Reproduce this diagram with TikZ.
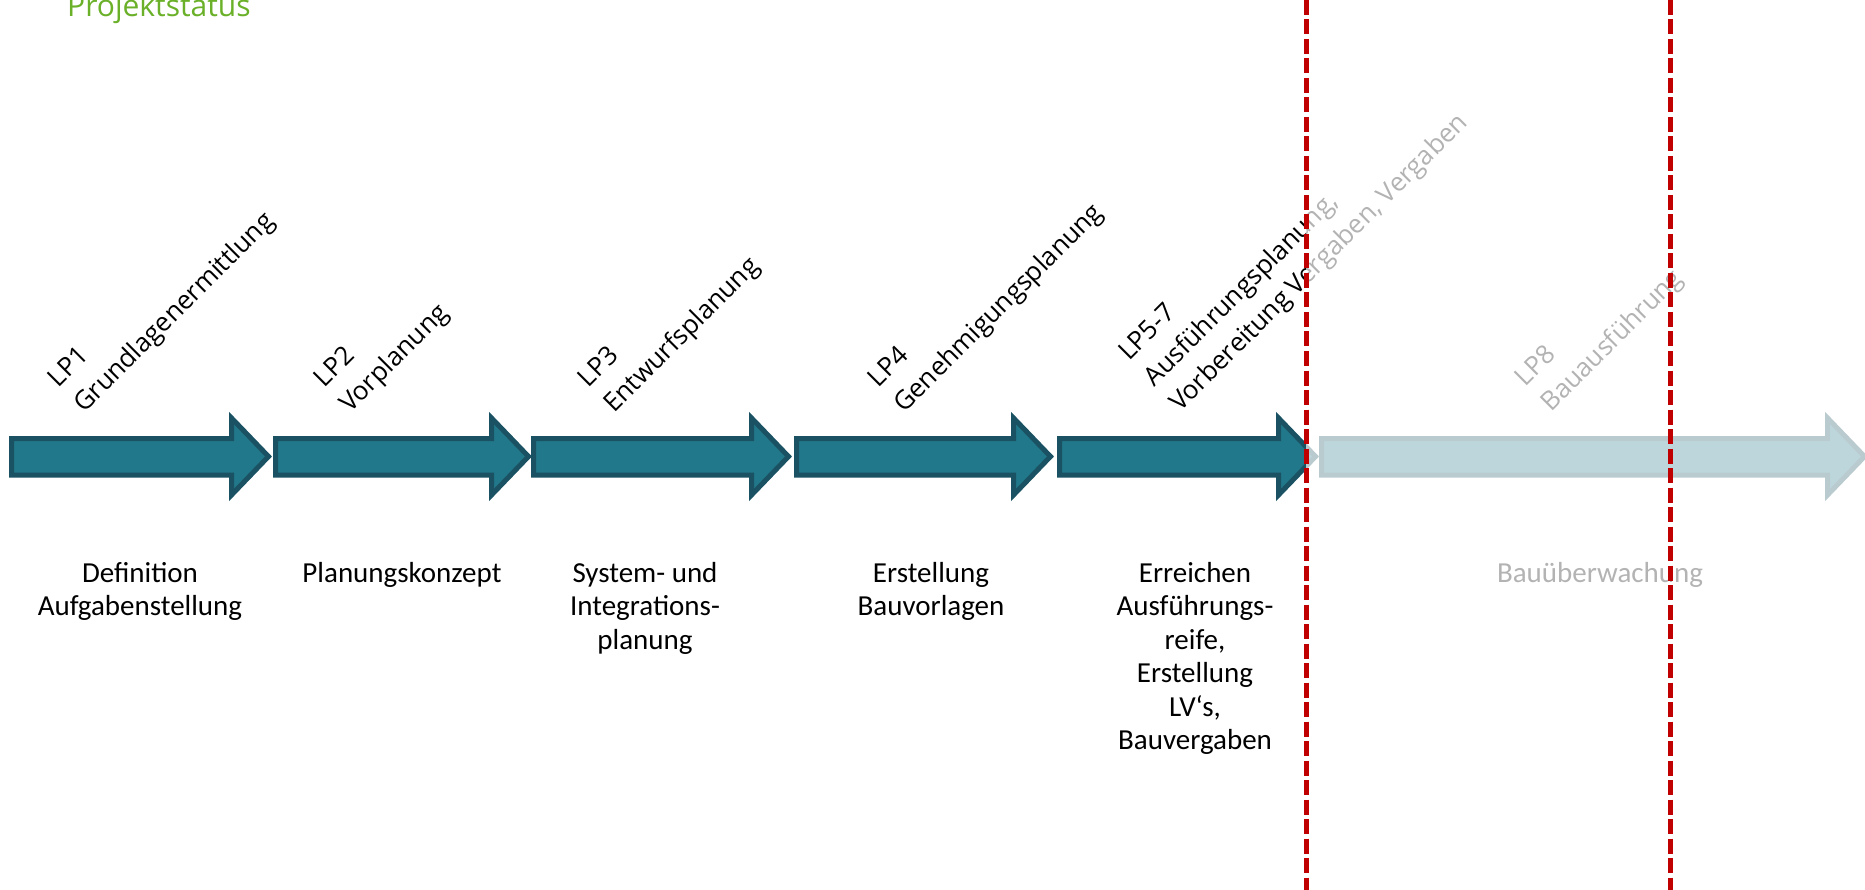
\documentclass[tikz,border=0pt]{standalone}
\usepackage{fontspec}
\setmainfont{Carlito}
\newfontfamily\labelfont{Open Sans}
\definecolor{phasefill}{RGB}{33,120,138}
\definecolor{phaseedge}{RGB}{26,82,99}
\definecolor{cutred}{RGB}{192,0,0}
\definecolor{titlegreen}{RGB}{106,176,40}
\tikzset{
  phase/.style={fill=phasefill, draw=phaseedge, line width=5pt, miter limit=10},
  steplabel/.style={font=\labelfont\fontsize{26}{36}\selectfont, rotate=45, anchor=base west, inner sep=0pt},
  desc/.style={font=\fontsize{29}{33.5}\selectfont, anchor=base, inner sep=0pt},
  cutline/.style={draw=cutred, line width=5pt, dash pattern=on 15pt off 4.5pt},
  fade/.style={fill=white, opacity=0.7}
}
\newcommand\phasearrow[2]{%
  \draw[phase] (#1+2.5,438.5) -- (#2-40.5,438.5) -- (#2-40.5,418) -- (#2-3.5,456.5)
    -- (#2-40.5,495) -- (#2-40.5,475) -- (#1+2.5,475) -- cycle;}
\begin{document}
\begin{tikzpicture}[x=1pt,y=-1pt]
\useasboundingbox (0,0) rectangle (1865,890);
% title
\node[font=\labelfont\fontsize{30}{36}\selectfont, text=titlegreen, anchor=base west, inner sep=0pt] (title) at (67,17) {Projektstatus};
% arrows
\phasearrow{9}{272}
\phasearrow{273}{532}
\phasearrow{531}{792}
\phasearrow{794}{1054}
\phasearrow{1057}{1319}
\phasearrow{1319}{1868}
% rotated phase labels
\node[steplabel] (lp1) at (84,414) {\begin{tabular}[b]{@{}l@{}}LP1\\Grundlagenermittlung\end{tabular}};
\node[steplabel] (lp2) at (350,414) {\begin{tabular}[b]{@{}l@{}}LP2\\Vorplanung\end{tabular}};
\node[steplabel] (lp3) at (614,414) {\begin{tabular}[b]{@{}l@{}}LP3\\Entwurfsplanung\end{tabular}};
\node[steplabel] (lp4) at (904,414) {\begin{tabular}[b]{@{}l@{}}LP4\\Genehmigungsplanung\end{tabular}};
\node[steplabel] (lp57) at (1180,413) {\begin{tabular}[b]{@{}l@{}}LP5-7\\Ausführungsplanung,\\Vorbereitung Vergaben, Vergaben\end{tabular}};
\node[steplabel] (lp8) at (1551,413) {\begin{tabular}[b]{@{}l@{}}LP8\\Bauausführung\end{tabular}};
% descriptions
\node[desc] (d1) at (140,582) {\begin{tabular}[t]{@{}c@{}}Definition\\Aufgabenstellung\end{tabular}};
\node[desc] (d2) at (402,582) {\begin{tabular}[t]{@{}c@{}}Planungskonzept\end{tabular}};
\node[desc] (d3) at (645,582) {\begin{tabular}[t]{@{}c@{}}System- und\\Integrations-\\planung\end{tabular}};
\node[desc] (d4) at (931,582) {\begin{tabular}[t]{@{}c@{}}Erstellung\\Bauvorlagen\end{tabular}};
\node[desc] (d5) at (1195,582) {\begin{tabular}[t]{@{}c@{}}Erreichen\\Ausführungs-\\reife,\\Erstellung\\LV‘s,\\Bauvergaben\end{tabular}};
\node[desc] (d6) at (1600,582) {\begin{tabular}[t]{@{}c@{}}Bauüberwachung\end{tabular}};
% faded future part
\fill[fade] (1306,0) rectangle (1865,890);
% status lines
\coordinate (c1t) at (1306,0);
\coordinate (c1b) at (1306,890);
\coordinate (c2t) at (1670,0);
\coordinate (c2b) at (1670,890);
\draw[cutline] (c1t) -- (c1b);
\draw[cutline] (c2t) -- (c2b);
\end{tikzpicture}
\end{document}
